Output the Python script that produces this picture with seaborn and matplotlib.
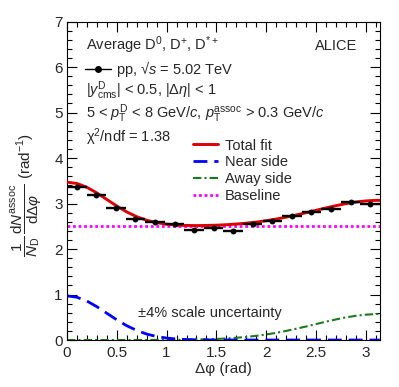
import numpy as np
import pandas as pd
import matplotlib
matplotlib.use("Agg")
import matplotlib.pyplot as plt
from matplotlib.ticker import MultipleLocator
from matplotlib.lines import Line2D
import seaborn as sns

# data points (bin centres, yields)
dphi = [0.098, 0.295, 0.491, 0.687, 0.884, 1.080, 1.276, 1.473,
        1.669, 1.865, 2.062, 2.258, 2.454, 2.651, 2.847, 3.043]
yields = [3.36, 3.19, 2.91, 2.67, 2.59, 2.54, 2.42, 2.47,
          2.40, 2.55, 2.61, 2.72, 2.82, 2.87, 3.04, 2.99]
bin_half = [0.098] * 16
stat_err = [0.02] * 16

# fit curves
curve_x = [0.0, 0.1, 0.2, 0.3, 0.4, 0.5, 0.6, 0.7, 0.8, 0.9, 1.0, 1.1,
           1.2, 1.3, 1.4, 1.5, 1.6, 1.7, 1.8, 1.9, 2.0, 2.1, 2.2, 2.3,
           2.4, 2.5, 2.6, 2.7, 2.8, 2.9, 3.0, 3.1, 3.1416]
near_side = [0.97, 0.94, 0.856, 0.732, 0.588, 0.444, 0.315, 0.21, 0.131,
             0.077, 0.043, 0.022, 0.011, 0.005, 0.002, 0.001, 0.0, 0.0,
             0.0, 0.0, 0.0, 0.0, 0.0, 0.0, 0.0, 0.0, 0.0, 0.0, 0.0, 0.0,
             0.0, 0.0, 0.0]
away_side = [0.0, 0.0, 0.0, 0.0, 0.0, 0.0, 0.0, 0.0, 0.001, 0.002, 0.003,
             0.004, 0.007, 0.010, 0.016, 0.023, 0.034, 0.049, 0.068, 0.092,
             0.122, 0.158, 0.200, 0.247, 0.297, 0.350, 0.403, 0.452, 0.497,
             0.532, 0.557, 0.57, 0.57]
total_fit = [3.47, 3.44, 3.356, 3.232, 3.088, 2.944, 2.815, 2.71, 2.632,
             2.579, 2.546, 2.526, 2.518, 2.515, 2.518, 2.524, 2.534, 2.549,
             2.568, 2.592, 2.622, 2.658, 2.70, 2.747, 2.797, 2.85, 2.903,
             2.952, 2.997, 3.032, 3.057, 3.07, 3.07]
baseline = [2.5] * len(curve_x)

sns.set_theme(style="ticks")
plt.rcParams["font.family"] = ["Liberation Sans", "DejaVu Sans"]
plt.rcParams["mathtext.fontset"] = "custom"
plt.rcParams["mathtext.rm"] = "Liberation Sans"
plt.rcParams["mathtext.it"] = "Liberation Sans:italic"
plt.rcParams["mathtext.bf"] = "Liberation Sans:bold"
plt.rcParams["mathtext.sf"] = "Liberation Sans"

curves = pd.DataFrame({"x": curve_x, "total": total_fit, "near": near_side,
                       "away": away_side, "base": baseline})

fig = plt.figure(figsize=(3.99, 3.87), dpi=100)
ax = fig.add_axes([0.168, 0.1214, 0.784, 0.8230])

sns.lineplot(data=curves, x="x", y="base", ax=ax, color="#ff00ff",
             lw=2, ls=(0, (1, 1)), label="Baseline", zorder=2)
sns.lineplot(data=curves, x="x", y="away", ax=ax, color="#1a7a1a",
             lw=1.5, ls=(0, (4, 1.5, 1, 1.5)), label="Away side", zorder=2)
sns.lineplot(data=curves, x="x", y="near", ax=ax, color="#0000ff",
             lw=2, ls=(0, (5, 2.5)), label="Near side", zorder=2)
sns.lineplot(data=curves, x="x", y="total", ax=ax, color="#dd0000",
             lw=2.1, label="Total fit", zorder=3)

ax.errorbar(dphi, yields, xerr=bin_half, yerr=stat_err, fmt="none",
            ecolor="black", elinewidth=1.7, capsize=0, zorder=4)
sns.scatterplot(x=dphi, y=yields, ax=ax, color="black", s=18,
                edgecolor="black", linewidth=0, zorder=5)

ax.set_xlim(0, np.pi)
ax.set_ylim(0, 7)
ax.xaxis.set_major_locator(MultipleLocator(0.5))
ax.xaxis.set_minor_locator(MultipleLocator(0.1))
ax.yaxis.set_major_locator(MultipleLocator(1))
ax.yaxis.set_minor_locator(MultipleLocator(0.2))
ax.xaxis.set_major_formatter(plt.FuncFormatter(lambda v, p: f"{v:g}"))
ax.tick_params(which="both", direction="in", top=True, right=True,
               color="black", width=0.8, labelsize=11)
ax.tick_params(which="major", length=7)
ax.tick_params(which="minor", length=3.5)
ax.tick_params(axis="y", pad=3)
ax.tick_params(axis="x", pad=4)
for s in ax.spines.values():
    s.set_color("black")
    s.set_linewidth(0.8)

ax.set_xlabel("Δφ (rad)", fontsize=11)
ax.xaxis.set_label_coords(0.5, -0.068)
ax.set_ylabel(r"$\dfrac{1}{N_{\mathrm{D}}}\,\dfrac{\mathrm{d}N^{\mathrm{assoc}}}{\mathrm{d}\Delta\varphi}$ (rad$^{-1}$)",
              fontsize=11)
ax.yaxis.set_label_coords(-0.075, 0.455)

# legend for the fits
handles, labels = ax.get_legend_handles_labels()
order = [labels.index(n) for n in ["Total fit", "Near side", "Away side", "Baseline"]]
leg = ax.legend([handles[i] for i in order], [labels[i] for i in order],
                loc="center left", bbox_to_anchor=(0.4026, 0.531),
                frameon=False, fontsize=10.5, handlelength=1.75,
                handletextpad=0.45, labelspacing=0.2, borderpad=0,
                borderaxespad=0)
ax.add_artist(leg)

# legend for the data
pp_handle = Line2D([], [], color="black", marker="o", markersize=4, lw=1)
ax.legend([pp_handle], [r"pp, √$s$ = 5.02 TeV"], loc="center left",
          bbox_to_anchor=(0.0575, 0.852), frameon=False, fontsize=10.5,
          handlelength=1.8, handletextpad=0.35, borderpad=0, borderaxespad=0)

tkw = dict(transform=ax.transAxes, fontsize=10.5, va="baseline")
ax.text(0.061, 0.9105, r"Average D$^{0}$, D$^{+}$, D$^{*+}$", **tkw)
ax.text(0.927, 0.9105, "ALICE", ha="right", **tkw)
ax.text(0.061, 0.769, r"|$y^{\mathrm{D}}_{\mathrm{cms}}$| < 0.5, |Δ$\eta$| < 1", **tkw)
ax.text(0.061, 0.697, r"5 < $p^{\mathrm{D}}_{\mathrm{T}}$ < 8 GeV/$c$, $p^{\mathrm{assoc}}_{\mathrm{T}}$ > 0.3 GeV/$c$", **tkw)
ax.text(0.061, 0.623, r"χ$^{2}$/ndf = 1.38", **tkw)
ax.text(0.227, 0.0732, "±4% scale uncertainty", **tkw)

plt.savefig("out.png", dpi=100)
